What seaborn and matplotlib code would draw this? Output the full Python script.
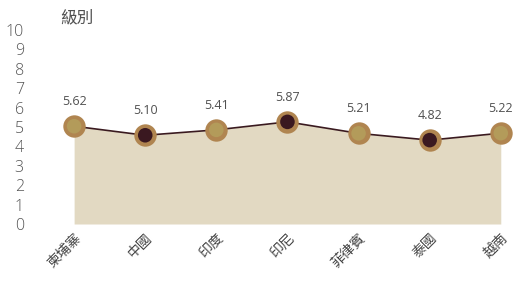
import matplotlib
matplotlib.use("Agg")
import matplotlib.pyplot as plt
import matplotlib.transforms as mtransforms
import seaborn as sns
import pandas as pd

# data
categories = ["柬埔寨", "中國", "印度", "印尼", "菲律賓", "泰國", "越南"]
values = [5.62, 5.10, 5.41, 5.87, 5.21, 4.82, 5.22]
inner_colors = ["#b39b5a", "#3a1820", "#b39b5a", "#3a1820", "#b39b5a", "#3a1820", "#b39b5a"]
y_ticks = list(range(0, 11))

sns.set_style("white")
plt.rcParams["font.family"] = ["Noto Sans CJK TC", "DejaVu Sans"]

df = pd.DataFrame({"cat": categories, "val": values, "x": range(len(categories))})

fig = plt.figure(figsize=(5.15, 2.84), dpi=100)
ax = fig.add_axes([35 / 515, 60 / 284, 480 / 515, 194 / 284])

scale = 1.115  # label axis spans a bit less than the data axis
ax.fill_between(df["x"], df["val"], 0, color="#e2d9c2", linewidth=0)
sns.lineplot(data=df, x="x", y="val", ax=ax, color="#3a1a1f", linewidth=1.2)
ax.scatter(df["x"], df["val"], s=260, c="#b08550", zorder=3, linewidths=0)
ax.scatter(df["x"], df["val"], s=110, c=inner_colors, zorder=4, linewidths=0)

for x, v in zip(df["x"], df["val"]):
    ax.annotate(f"{v:.2f}", (x, v), xytext=(0, 13), textcoords="offset points",
                ha="center", va="bottom", fontsize=9, color="#505050",
                family=["Open Sans", "DejaVu Sans"])

ax.set_xlim(-0.55, 6.2)
ax.set_ylim(0, 10 * scale)
ax.set_xticks(df["x"])
ax.set_xticklabels(categories, rotation=45, ha="right", rotation_mode="anchor",
                   fontsize=10, color="#444444", fontweight="light")
shift = mtransforms.ScaledTranslation(12 / 100, 0, fig.dpi_scale_trans)
for lbl in ax.get_xticklabels():
    lbl.set_transform(lbl.get_transform() + shift)
ax.tick_params(axis="x", length=0, pad=5)
ax.set_yticks([])
ax.set_xlabel("")
ax.set_ylabel("")
sns.despine(ax=ax, left=True, bottom=True)

sec = ax.secondary_yaxis("left", functions=(lambda y: y / scale, lambda y: y * scale))
sec.set_yticks(y_ticks)
sec.set_yticklabels([str(t) for t in y_ticks], fontsize=11.5, color="#555555",
                    family=["Open Sans", "DejaVu Sans"], fontweight="light")
sec.tick_params(length=0, pad=8)
sec.spines["left"].set_visible(False)

fig.text(77 / 515, 1 - 18 / 284, "級別", ha="center", va="center",
         fontsize=12, color="#505050")

fig.savefig("out.png", dpi=100)
